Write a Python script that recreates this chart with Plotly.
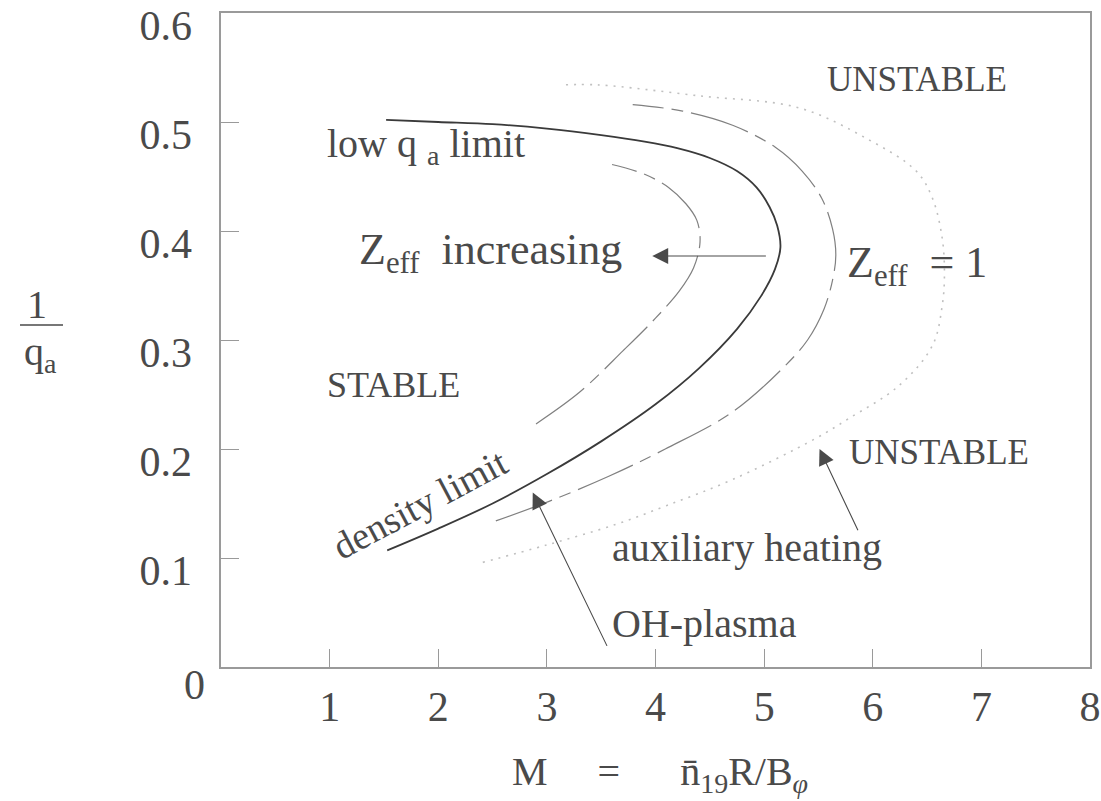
import plotly.graph_objects as go

# ---------------- data ----------------
# solid: density limit (lower branch) + low q_a limit (upper branch)
solid_x = [1.53, 2.00, 2.50, 3.00, 3.50, 4.00, 4.40, 4.75, 4.97, 5.10, 5.15,
           5.12, 5.05, 4.93, 4.75, 4.50, 4.20, 3.90, 3.50, 3.00, 2.50, 2.00, 1.52]
solid_y = [0.107, 0.127, 0.150, 0.177, 0.207, 0.241, 0.274, 0.310, 0.340, 0.365, 0.385,
           0.405, 0.422, 0.440, 0.455, 0.467, 0.476, 0.482, 0.488, 0.494, 0.498, 0.500, 0.502]

# inner dashed: Zeff increasing
inner_x = [2.90, 3.30, 3.70, 4.00, 4.22, 4.35, 4.41, 4.38, 4.28, 4.12, 3.90, 3.60]
inner_y = [0.223, 0.252, 0.290, 0.320, 0.345, 0.366, 0.390, 0.410, 0.425, 0.440, 0.452, 0.461]

# outer dashed: Zeff = 1
outer_x = [2.53, 3.02, 3.57, 4.09, 4.71, 5.17, 5.40, 5.55, 5.63, 5.66, 5.63, 5.53, 5.35, 5.10, 4.71, 4.25, 3.79]
outer_y = [0.134, 0.152, 0.175, 0.200, 0.234, 0.274, 0.300, 0.328, 0.355, 0.378, 0.402, 0.430, 0.455, 0.477, 0.497, 0.510, 0.516]

# dotted: auxiliary heating limit
dot_x = [2.41, 3.00, 3.64, 4.10, 4.71, 5.48, 5.78, 6.24, 6.55, 6.64, 6.66, 6.64, 6.55, 6.40, 5.94, 5.32, 4.40, 3.48, 3.14]
dot_y = [0.096, 0.112, 0.131, 0.148, 0.172, 0.210, 0.228, 0.258, 0.295, 0.332, 0.360, 0.393, 0.430, 0.455, 0.485, 0.513, 0.524, 0.534, 0.534]

x_ticks = [1, 2, 3, 4, 5, 6, 7, 8]
x_tick_labels = ["1", "2", "3", "4", "5", "6", "7", "8"]
y_ticks = [0.1, 0.2, 0.3, 0.4, 0.5, 0.6]
y_tick_labels = ["0.1", "0.2", "0.3", "0.4", "0.5", "0.6"]

# labels: (text, x, y, size, angle)
labels = [
    ("UNSTABLE", 6.41, 0.539, 35, 0),
    ("low q <sub>a</sub> limit", 1.89, 0.478, 40, 0),
    ("Z<sub>eff</sub>  increasing", 2.48, 0.380, 44, 0),
    ("Z<sub>eff</sub>  = 1", 6.41, 0.368, 44, 0),
    ("STABLE", 1.59, 0.259, 36, 0),
    ("density limit", 1.83, 0.150, 38, -28),
    ("UNSTABLE", 6.61, 0.197, 35, 0),
    ("auxiliary heating", 4.84, 0.110, 40, 0),
    ("OH-plasma", 4.45, 0.040, 40, 0),
]

# arrows: (tail_x, tail_y, tip_x, tip_y)
arrows = [
    (5.03, 0.377, 3.97, 0.377),
    (3.56, 0.018, 2.87, 0.160),
    (5.87, 0.124, 5.51, 0.200),
]

FONT = "Liberation Serif, Times New Roman, serif"
TXT = "#4a4a4a"

L, R, T, B = 221, 11, 13, 134
W, H = 1101, 801
PW, PH = W - L - R, H - T - B


def px2paper(px, py):
    return (px - L) / PW, (T + PH - py) / PH


fig = go.Figure()

fig.add_trace(go.Scatter(x=dot_x, y=dot_y, mode="lines", line_shape="spline",
                         line=dict(color="#c0c0c0", width=1.6, dash="2px,6px"),
                         hoverinfo="skip"))
fig.add_trace(go.Scatter(x=outer_x, y=outer_y, mode="lines", line_shape="spline",
                         line=dict(color="#808080", width=1.2, dash="60px,8px,12px,8px"),
                         hoverinfo="skip"))
fig.add_trace(go.Scatter(x=inner_x, y=inner_y, mode="lines", line_shape="spline",
                         line=dict(color="#808080", width=1.2, dash="60px,8px,12px,8px"),
                         hoverinfo="skip"))
fig.add_trace(go.Scatter(x=solid_x, y=solid_y, mode="lines", line_shape="spline",
                         line=dict(color="#3a3a3a", width=1.8),
                         hoverinfo="skip"))
# invisible trace bound to the tick-label axis
fig.add_trace(go.Scatter(x=[0], y=[0.3], yaxis="y2", mode="markers",
                         marker=dict(opacity=0), hoverinfo="skip"))

annotations = []
for text, x, y, size, ang in labels:
    annotations.append(dict(x=x, y=y, xref="x", yref="y", text=text, showarrow=False,
                            textangle=ang, xanchor="center", yanchor="middle",
                            font=dict(family=FONT, size=size, color=TXT)))
for tx, ty, hx, hy in arrows:
    annotations.append(dict(x=hx, y=hy, ax=tx, ay=ty, xref="x", yref="y", axref="x", ayref="y",
                            text="", showarrow=True, arrowhead=2, arrowsize=2.9,
                            arrowwidth=1.1, arrowcolor="#4a4a4a", standoff=0, startstandoff=0))
# origin label
annotations.append(dict(x=0, y=0, xref="x", yref="y", text="0", showarrow=False,
                        xanchor="right", yanchor="middle", xshift=-14, yshift=-18,
                        font=dict(family=FONT, size=42, color=TXT)))
# y-axis title as fraction 1 / q_a
fx, fy = px2paper(37, 304)
annotations.append(dict(x=fx, y=fy, xref="paper", yref="paper", text="1", showarrow=False,
                        xanchor="center", yanchor="middle",
                        font=dict(family=FONT, size=40, color=TXT)))
fx, fy = px2paper(40, 354)
annotations.append(dict(x=fx, y=fy, xref="paper", yref="paper", text="q<sub>a</sub>", showarrow=False,
                        xanchor="center", yanchor="middle",
                        font=dict(family=FONT, size=40, color=TXT)))
# x-axis title
fx, fy = px2paper(660, 774)
annotations.append(dict(x=fx, y=fy, xref="paper", yref="paper",
                        text="M&nbsp;&nbsp;&nbsp;&nbsp;&nbsp;=&nbsp;&nbsp;&nbsp;&nbsp;&nbsp;&nbsp;n\u0304<sub>19</sub>R/B<sub><i>\u03c6</i></sub>",
                        showarrow=False, xanchor="center", yanchor="middle",
                        font=dict(family=FONT, size=40, color=TXT)))
x0, y0 = px2paper(20, 325)
x1, _ = px2paper(63, 325)

fig.update_layout(
    width=W, height=H,
    margin=dict(l=L, r=R, t=T, b=B, autoexpand=False),
    paper_bgcolor="white", plot_bgcolor="white",
    showlegend=False,
    font=dict(family=FONT, color=TXT),
    xaxis=dict(range=[0, 8], tickvals=x_ticks, ticktext=x_tick_labels,
               ticks="inside", ticklen=18, tickwidth=1, tickcolor="#9a9a9a",
               showline=True, linecolor="#9a9a9a", linewidth=1.5, mirror=True,
               showgrid=False, zeroline=False, ticklabelstandoff=2, automargin=False,
               tickfont=dict(family=FONT, size=42, color=TXT)),
    yaxis=dict(range=[0, 0.6], tickvals=[0.1, 0.2, 0.3, 0.4, 0.5], showticklabels=False,
               ticks="inside", ticklen=18, tickwidth=1, tickcolor="#9a9a9a",
               showline=True, linecolor="#9a9a9a", linewidth=1.5, mirror=True,
               showgrid=False, zeroline=False, automargin=False),
    yaxis2=dict(range=[0.011, 0.611], overlaying="y", side="left", tickvals=y_ticks,
                ticktext=y_tick_labels, ticks="", showline=False, showgrid=False,
                zeroline=False, ticklabelstandoff=28, automargin=False,
                tickfont=dict(family=FONT, size=42, color=TXT)),
    annotations=annotations,
    shapes=[dict(type="line", xref="paper", yref="paper", x0=x0, x1=x1, y0=y0, y1=y0,
                 line=dict(color=TXT, width=1.3))],
)

fig.write_html("out.html", config={"displayModeBar": False},
               post_script="document.body.style.margin='0';document.body.style.overflow='hidden';")
